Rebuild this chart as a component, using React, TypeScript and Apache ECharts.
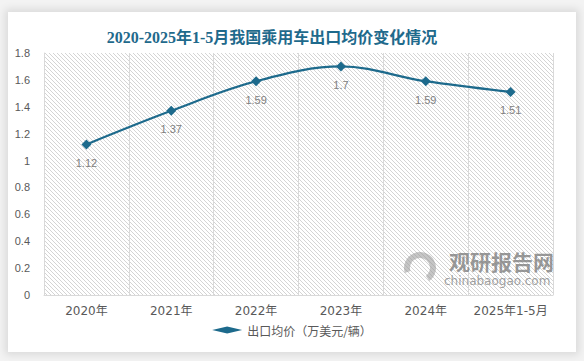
import React, { useEffect, useRef } from "react";
import * as echarts from "echarts";

const categories = ["2020年", "2021年", "2022年", "2023年", "2024年", "2025年1-5月"];
const avgPrice = [1.12, 1.37, 1.59, 1.7, 1.59, 1.51];
const seriesName = "出口均价（万美元/辆）";
const titleText = "2020-2025年1-5月我国乘用车出口均价变化情况";

function makeHatch(): string {
  const c = document.createElement("canvas");
  c.width = 4;
  c.height = 4;
  const ctx = c.getContext("2d")!;
  ctx.fillStyle = "#ffffff";
  ctx.fillRect(0, 0, 4, 4);
  ctx.fillStyle = "#d4d4d4";
  for (let i = 0; i < 4; i++) ctx.fillRect(i, i, 1, 1);
  return c.toDataURL();
}

export default function App() {
  const ref = useRef<HTMLDivElement>(null);
  useEffect(() => {
    if (!ref.current) return;
    const chart = echarts.init(ref.current, undefined, { renderer: "svg" });
    const hatch = makeHatch();
    chart.setOption({
      animation: false,
      backgroundColor: "transparent",
      title: {
        text: titleText,
        left: 267,
        textAlign: "center",
        top: 24,
        textStyle: {
          fontFamily: "'Liberation Serif', 'Noto Sans CJK SC', serif",
          fontSize: 16,
          fontWeight: "bold",
          color: "#1f6a8c",
        },
      },
      legend: {
        bottom: 20,
        left: "center",
        itemWidth: 30,
        itemHeight: 7,
        itemGap: 4,
        data: [{ name: seriesName, icon: "diamond" }],
        textStyle: { color: "#595959", fontSize: 12, fontFamily: "'Noto Sans CJK SC', sans-serif" },
      },
      grid: {
        left: 44,
        right: 31,
        top: 53,
        bottom: 66,
        show: true,
        borderWidth: 0,
        backgroundColor: { image: hatch, repeat: "repeat" },
      },
      xAxis: {
        type: "category",
        data: categories,
        boundaryGap: true,
        axisLine: { show: true, lineStyle: { color: "#d9d9d9" } },
        axisTick: { show: false },
        axisLabel: {
          color: "#595959",
          fontSize: 12,
          margin: 10,
          interval: 0,
          fontFamily: "'DejaVu Sans', 'Noto Sans CJK SC', sans-serif",
        },
        splitLine: { show: true, interval: 0, lineStyle: { color: "#d9d9d9" } },
      },
      yAxis: {
        type: "value",
        min: 0,
        max: 1.8,
        interval: 0.2,
        axisLine: { show: true, lineStyle: { color: "#d9d9d9" } },
        axisTick: { show: false },
        splitLine: { show: false },
        axisLabel: {
          color: "#595959",
          fontSize: 11,
          margin: 14,
          fontFamily: "'Liberation Sans', sans-serif",
          formatter: (v: number) => String(Math.round(v * 10) / 10),
        },
      },
      series: [
        {
          name: seriesName,
          type: "line",
          data: avgPrice,
          smooth: 0.35,
          symbol: "diamond",
          symbolSize: 10,
          itemStyle: { color: "#1d6a8c" },
          lineStyle: { color: "#1d6a8c", width: 2.25 },
          label: {
            show: true,
            position: "bottom",
            distance: 8,
            color: "#808080",
            fontSize: 11,
            fontFamily: "'Liberation Sans', sans-serif",
          },
        },
      ],
      graphic: [
        {
          type: "arc",
          shape: { cx: 420, cy: 268, r: 13, startAngle: Math.PI * 0.9, endAngle: Math.PI * 2.3 },
          style: { stroke: "rgba(150,150,150,0.55)", lineWidth: 6, fill: "none" },
          z: 50,
        },
        {
          type: "text",
          left: 449,
          top: 250,
          style: {
            text: "观研报告网",
            fontSize: 21,
            fontWeight: "bold",
            fill: "rgba(120,120,120,0.75)",
            fontFamily: "'Noto Sans CJK SC', sans-serif",
          },
          z: 50,
        },
        {
          type: "text",
          left: 444,
          top: 275,
          style: {
            text: "chinabaogao.com",
            fontSize: 12,
            fill: "rgba(130,130,130,0.75)",
            fontFamily: "'DejaVu Sans', sans-serif",
          },
          z: 50,
        },
      ],
    });
    return () => chart.dispose();
  }, []);
  return (
    <div
      style={{
        position: "fixed",
        left: 0,
        top: 0,
        width: 584,
        height: 361,
        background: "#f3f3f3",
      }}
    >
      <div
        style={{
          position: "absolute",
          left: 8,
          top: 12,
          width: 568,
          height: 340,
          background: "#ffffff",
          boxShadow: "0 0 8px 3px rgba(0,0,0,0.1)",
        }}
      />
      <div ref={ref} style={{ position: "absolute", left: 0, top: 0, width: 584, height: 361 }} />
    </div>
  );
}
